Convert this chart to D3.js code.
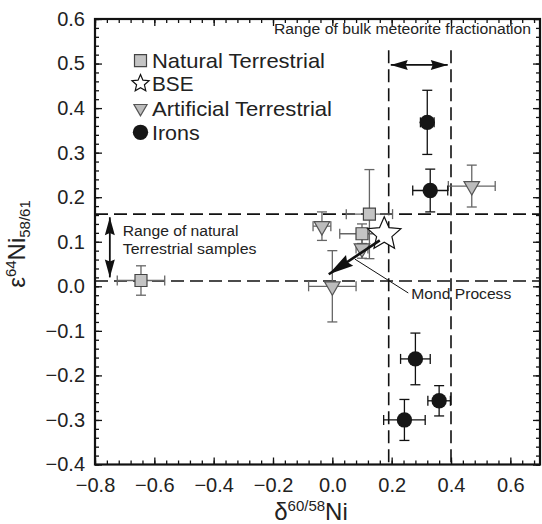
<!DOCTYPE html>
<html lang="en">
<head>
  <meta charset="UTF-8">
  <title>Ni isotopes</title>
  <script src="https://d3js.org/d3.v7.min.js"></script>
  <style>
    body { margin: 0; background: #fff; }
    text { font-family: "Liberation Sans", Arial, Helvetica, sans-serif; fill: #222; }
  </style>
</head>
<body>
  <div id="chart"></div>
  <script>
    // values: x = d60/58Ni, y = e64Ni58/61, with +/- errors
    const naturalX  = [-0.645, 0.125, 0.100]
    const naturalY  = [0.013, 0.162, 0.118]
    const naturalXe = [0.080, 0.078, 0.075]
    const naturalYe = [0.033, 0.100, 0.022]

    const artificialX  = [-0.035, 0.000, 0.100, 0.470]
    const artificialY  = [0.135, 0.000, 0.085, 0.225]
    const artificialXe = [0.030, 0.080, 0.020, 0.079]
    const artificialYe = [0.032, 0.080, 0.022, 0.047]

    const ironX  = [0.320, 0.330, 0.280, 0.360, 0.243]
    const ironY  = [0.368, 0.215, -0.163, -0.257, -0.300]
    const ironXe = [0.023, 0.059, 0.050, 0.038, 0.070]
    const ironYe = [0.072, 0.048, 0.058, 0.034, 0.046]

    const bseX = [0.175]
    const bseY = [0.117]

    const xTicks = [-0.8, -0.6, -0.4, -0.2, 0.0, 0.2, 0.4, 0.6]
    const yTicks = [-0.4, -0.3, -0.2, -0.1, 0.0, 0.1, 0.2, 0.3, 0.4, 0.5, 0.6]
    const legendNames = ['Natural Terrestrial', 'BSE', 'Artificial Terrestrial', 'Irons']

    // annotation ranges
    const terrestrialRange = [0.012, 0.162]   // horizontal dashed lines
    const meteoriteRange = [0.19, 0.40]        // vertical dashed lines
    const mondArrow = [[0.160, 0.103], [-0.012, 0.027]]
    const mondLeader = [[0.076, 0.061], [0.256, -0.015]]

    const W = 542, H = 524
    const svg = d3.select('#chart').append('svg')
      .attr('width', W)
      .attr('height', H)

    const x = d3.scaleLinear().domain([-0.8, 0.7]).range([95, 540])
    const y = d3.scaleLinear().domain([-0.4, 0.6]).range([464.5, 19])
    const x0 = x.range()[0], x1 = x.range()[1]
    const y0 = y.range()[0], y1 = y.range()[1]

    const xMinor = d3.range(-40, 36, 2).map(d => d / 50)
    const yMinor = d3.range(-20, 31, 1).map(d => d / 50)
    const fmt = d3.format('.1f')

    function styleAxis (g) {
      g.select('.domain').remove()
      g.selectAll('line').attr('stroke', '#111').attr('stroke-width', 1.3)
      g.selectAll('text').style('font-size', '20px').attr('fill', '#222')
    }

    // major ticks with labels
    svg.append('g').attr('transform', `translate(0,${y0})`)
      .call(d3.axisBottom(x).tickValues(xTicks).tickSize(-7).tickPadding(13).tickFormat(fmt))
      .call(styleAxis)
    svg.append('g').attr('transform', `translate(${x0},0)`)
      .call(d3.axisLeft(y).tickValues(yTicks).tickSize(-7).tickPadding(10).tickFormat(fmt))
      .call(styleAxis)
    svg.append('g').attr('transform', `translate(0,${y1})`)
      .call(d3.axisTop(x).tickValues(xTicks).tickSize(-7).tickFormat(''))
      .call(styleAxis)
    svg.append('g').attr('transform', `translate(${x1},0)`)
      .call(d3.axisRight(y).tickValues(yTicks).tickSize(-7).tickFormat(''))
      .call(styleAxis)
    // minor ticks
    svg.append('g').attr('transform', `translate(0,${y0})`)
      .call(d3.axisBottom(x).tickValues(xMinor).tickSize(-4).tickFormat('')).call(styleAxis)
    svg.append('g').attr('transform', `translate(0,${y1})`)
      .call(d3.axisTop(x).tickValues(xMinor).tickSize(-4).tickFormat('')).call(styleAxis)
    svg.append('g').attr('transform', `translate(${x0},0)`)
      .call(d3.axisLeft(y).tickValues(yMinor).tickSize(-4).tickFormat('')).call(styleAxis)
    svg.append('g').attr('transform', `translate(${x1},0)`)
      .call(d3.axisRight(y).tickValues(yMinor).tickSize(-4).tickFormat('')).call(styleAxis)

    // dashed range lines
    const dash = svg.append('g')
      .attr('stroke', '#111').attr('stroke-width', 1.6).attr('stroke-dasharray', '13,6').attr('fill', 'none')
    dash.selectAll('.h').data(terrestrialRange).enter().append('line')
      .attr('x1', x0).attr('x2', x1)
      .attr('y1', d => y(d)).attr('y2', d => y(d))
    dash.selectAll('.v').data(meteoriteRange).enter().append('line')
      .attr('x1', d => x(d)).attr('x2', d => x(d))
      .attr('y1', y(0.53)).attr('y2', y0)

    // helper: filled arrow head at (tx,ty) pointing away from (fx,fy)
    function head (fx, fy, tx, ty, len, half) {
      const a = Math.atan2(ty - fy, tx - fx)
      const bx = tx - len * Math.cos(a), by = ty - len * Math.sin(a)
      const px = -Math.sin(a) * half, py = Math.cos(a) * half
      return `M${tx},${ty}L${bx + px},${by + py}L${bx + len * 0.12 * Math.cos(a)},${by + len * 0.12 * Math.sin(a)}L${bx - px},${by - py}Z`
    }
    function doubleArrow (ax, ay, bx, by, len, half) {
      svg.append('line').attr('x1', ax).attr('y1', ay).attr('x2', bx).attr('y2', by)
        .attr('stroke', '#111').attr('stroke-width', 1.8)
      svg.append('path').attr('d', head(bx, by, ax, ay, len, half)).attr('fill', '#111')
      svg.append('path').attr('d', head(ax, ay, bx, by, len, half)).attr('fill', '#111')
    }
    doubleArrow(x(0.197), y(0.497), x(0.389), y(0.497), 17, 5)
    doubleArrow(x(-0.75), y(0.155), x(-0.75), y(0.02), 18, 5)

    // error bars
    function errorBars (xs, ys, xe, ye, color) {
      const g = svg.append('g').attr('stroke', color).attr('stroke-width', 1.3).attr('fill', 'none')
      const cap = 5
      xs.forEach((xv, i) => {
        const cx = x(xv), cy = y(ys[i])
        const l = x(xv - xe[i]), r = x(xv + xe[i])
        const t = y(ys[i] + ye[i]), b = y(ys[i] - ye[i])
        g.append('line').attr('x1', l).attr('x2', r).attr('y1', cy).attr('y2', cy)
        g.append('line').attr('x1', l).attr('x2', l).attr('y1', cy - cap).attr('y2', cy + cap)
        g.append('line').attr('x1', r).attr('x2', r).attr('y1', cy - cap).attr('y2', cy + cap)
        g.append('line').attr('x1', cx).attr('x2', cx).attr('y1', t).attr('y2', b)
        g.append('line').attr('x1', cx - cap).attr('x2', cx + cap).attr('y1', t).attr('y2', t)
        g.append('line').attr('x1', cx - cap).attr('x2', cx + cap).attr('y1', b).attr('y2', b)
      })
    }
    errorBars(naturalX, naturalY, naturalXe, naturalYe, '#666')
    errorBars(artificialX, artificialY, artificialXe, artificialYe, '#666')
    errorBars(ironX, ironY, ironXe, ironYe, '#111')

    // five-point star with fatter arms than d3.symbolStar; size = outer radius
    const fatStar = {
      draw (ctx, R) {
        const r = R * 0.46
        for (let k = 0; k < 10; k++) {
          const rad = k % 2 ? r : R
          const a = -Math.PI / 2 + k * Math.PI / 5
          const px = rad * Math.cos(a), py = rad * Math.sin(a)
          if (k === 0) ctx.moveTo(px, py); else ctx.lineTo(px, py)
        }
        ctx.closePath()
      }
    }

    const square = d3.symbol(d3.symbolSquare, 144)
    const tri = d3.symbol(d3.symbolTriangle, 105)
    const star = d3.symbol(fatStar, 17.5)
    const circ = d3.symbol(d3.symbolCircle, 185)

    svg.selectAll('.art').data(artificialX).enter().append('path')
      .attr('d', tri)
      .attr('transform', (d, i) => `translate(${x(d)},${y(artificialY[i])}) rotate(180)`)
      .attr('fill', '#bcbcbc').attr('stroke', '#555').attr('stroke-width', 1.2)
    svg.selectAll('.nat').data(naturalX).enter().append('path')
      .attr('d', square)
      .attr('transform', (d, i) => `translate(${x(d)},${y(naturalY[i])})`)
      .attr('fill', '#c4c4c4').attr('stroke', '#444').attr('stroke-width', 1.2)
    svg.selectAll('.iron').data(ironX).enter().append('path')
      .attr('d', circ)
      .attr('transform', (d, i) => `translate(${x(d)},${y(ironY[i])})`)
      .attr('fill', '#161616')
    svg.selectAll('.bse').data(bseX).enter().append('path')
      .attr('d', star)
      .attr('transform', (d, i) => `translate(${x(d)},${y(bseY[i])})`)
      .attr('fill', '#fff').attr('stroke', '#111').attr('stroke-width', 1.2)

    // Mond process arrow and leader
    const mA = mondArrow.map(p => [x(p[0]), y(p[1])])
    svg.append('line').attr('x1', mA[0][0]).attr('y1', mA[0][1]).attr('x2', mA[1][0]).attr('y2', mA[1][1])
      .attr('stroke', '#111').attr('stroke-width', 2.6)
    svg.append('path').attr('d', head(mA[0][0], mA[0][1], mA[1][0], mA[1][1], 25, 6.5)).attr('fill', '#111')
    svg.append('line')
      .attr('x1', x(mondLeader[0][0])).attr('y1', y(mondLeader[0][1]))
      .attr('x2', x(mondLeader[1][0])).attr('y2', y(mondLeader[1][1]))
      .attr('stroke', '#111').attr('stroke-width', 1)

    // annotations (text widths matched to the figure)
    function note (tx, ty, size, len, s) {
      svg.append('text').attr('x', tx).attr('y', ty)
        .attr('textLength', len).attr('lengthAdjust', 'spacingAndGlyphs')
        .style('font-size', size + 'px').text(s)
    }
    note(274, 33.5, 15.5, 257, 'Range of bulk meteorite fractionation')
    note(122.7, 235.5, 15.5, 115.8, 'Range of natural')
    note(122.7, 253.5, 15.5, 133.8, 'Terrestrial samples')
    note(x(mondLeader[1][0]) + 3, 299, 15.5, 100, 'Mond Process')

    // legend
    const legY = [60.7, 83.5, 108.3, 132.3]
    const legLen = [173, 41.5, 180, 47.7]
    const legSym = [square, d3.symbol(fatStar, 9), d3.symbol(d3.symbolTriangle, 75), circ]
    const legFill = ['#c4c4c4', '#fff', '#bcbcbc', '#161616']
    const legStroke = ['#444', '#111', '#555', 'none']
    const legend = svg.append('g')
    legend.selectAll('path').data(legendNames).enter().append('path')
      .attr('d', (d, i) => legSym[i]())
      .attr('transform', (d, i) => `translate(140.5,${legY[i]})` + (i === 2 ? ' rotate(180)' : ''))
      .attr('fill', (d, i) => legFill[i])
      .attr('stroke', (d, i) => legStroke[i]).attr('stroke-width', 1.2)
    legend.selectAll('text').data(legendNames).enter().append('text')
      .attr('x', 152).attr('y', (d, i) => legY[i] + 7.5)
      .attr('textLength', (d, i) => legLen[i]).attr('lengthAdjust', 'spacingAndGlyphs')
      .style('font-size', '21px').text(d => d)

    // frame
    svg.append('rect').attr('x', x0).attr('y', y1).attr('width', x1 - x0).attr('height', y0 - y1)
      .attr('fill', 'none').attr('stroke', '#111').attr('stroke-width', 2.2)

    // axis titles
    const xt = svg.append('text').attr('x', 311).attr('y', 519.5).attr('text-anchor', 'middle')
      .style('font-size', '24px')
    xt.append('tspan').text('δ')
    xt.append('tspan').attr('dy', -9).style('font-size', '15px').text('60/58')
    xt.append('tspan').attr('dy', 9).text('Ni')

    const yt = svg.append('text').attr('transform', 'translate(25,244) rotate(-90)')
      .attr('text-anchor', 'middle').style('font-size', '24px')
    yt.append('tspan').text('ε')
    yt.append('tspan').attr('dy', -9).style('font-size', '15px').text('64')
    yt.append('tspan').attr('dy', 9).text('Ni')
    yt.append('tspan').attr('dy', 5).style('font-size', '15px').text('58/61')
  </script>
</body>
</html>
